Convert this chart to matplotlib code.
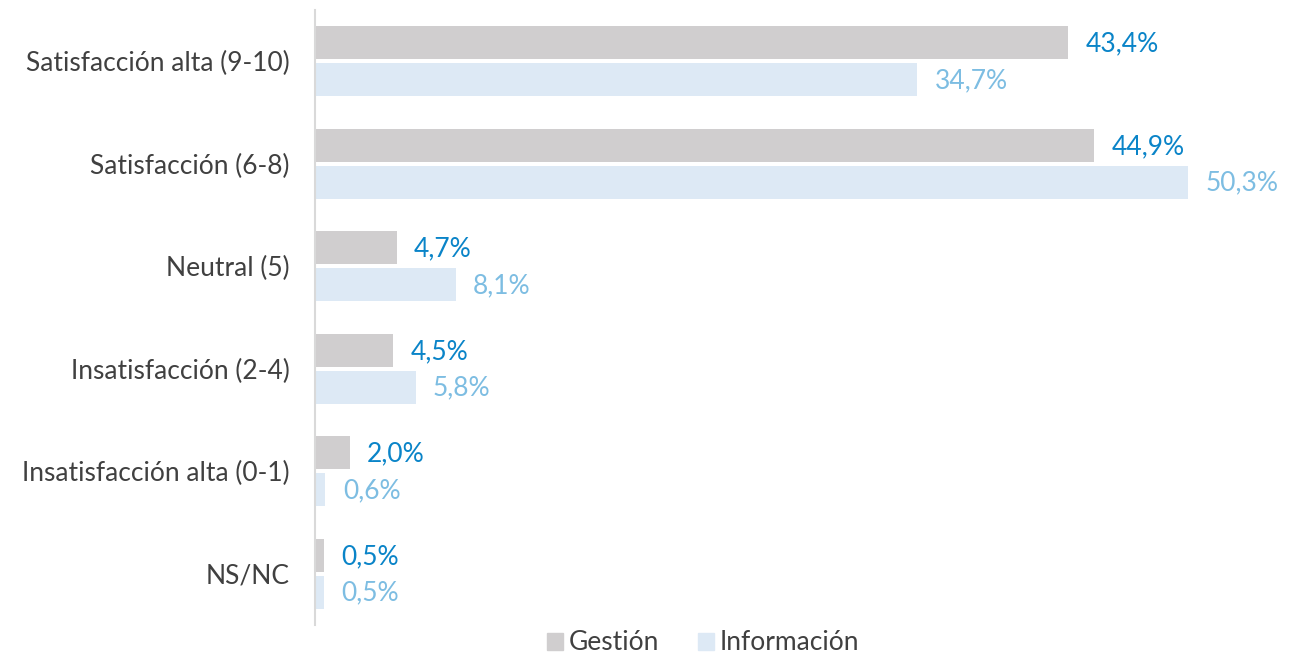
import matplotlib.pyplot as plt
import numpy as np
from matplotlib.patches import Patch

categories = ["Satisfacción alta (9-10)", "Satisfacción (6-8)", "Neutral (5)",
              "Insatisfacción (2-4)", "Insatisfacción alta (0-1)", "NS/NC"]
gestion = [43.4, 44.9, 4.7, 4.5, 2.0, 0.5]
informacion = [34.7, 50.3, 8.1, 5.8, 0.6, 0.5]

c_gest = "#D0CECF"
c_info = "#DDE9F5"
c_gest_txt = "#0A84C8"
c_info_txt = "#7DBDE2"

plt.rcParams["font.family"] = ["Lato", "DejaVu Sans"]

fig = plt.figure(figsize=(13.04, 6.55), dpi=100)
ax = fig.add_axes([315 / 1304, 30 / 655, 989 / 1304, 615 / 655])

y = np.arange(len(categories))
h = 0.32
ax.barh(y - 0.18, gestion, height=h, color=c_gest)
ax.barh(y + 0.18, informacion, height=h, color=c_info)

fmt = lambda v: f"{v:.1f}%".replace(".", ",")
for i in range(len(categories)):
    ax.text(gestion[i] + 1.0, y[i] - 0.17, fmt(gestion[i]), va="center", ha="left",
            color=c_gest_txt, fontsize=19)
    ax.text(informacion[i] + 1.0, y[i] + 0.19, fmt(informacion[i]), va="center", ha="left",
            color=c_info_txt, fontsize=19)

ax.set_yticks(y)
ax.set_yticklabels(categories, fontsize=19, color="#404040")
ax.set_ylim(len(categories) - 0.5, -0.5)
ax.set_xlim(0, 57.0)
ax.set_xticks([])
ax.tick_params(axis="y", length=0, pad=18)
for s in ["top", "right", "bottom"]:
    ax.spines[s].set_visible(False)
ax.spines["left"].set_color("#D9D9D9")
ax.spines["left"].set_linewidth(1.5)

handles = [Patch(color=c_gest, label="Gestión"), Patch(color=c_info, label="Información")]
fig.legend(handles=handles, loc="center", bbox_to_anchor=(703 / 1304, 12 / 655), ncol=2,
           frameon=False, fontsize=19, handlelength=0.6, handleheight=0.6,
           handletextpad=0.2, columnspacing=1.5, labelcolor="#404040")

fig.savefig("out.png", dpi=100)
